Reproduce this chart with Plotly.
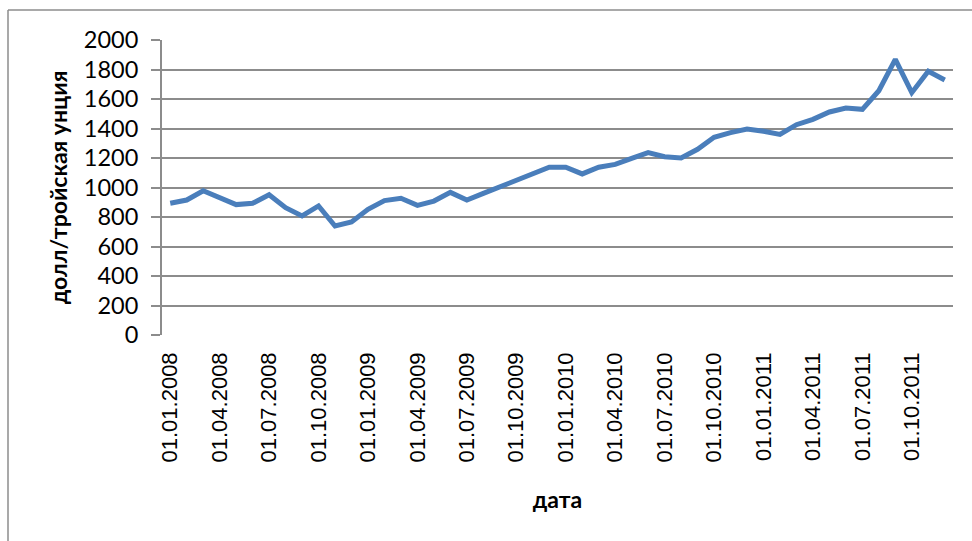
import plotly.graph_objects as go

# Monthly dates (first day of each month), Jan 2008 - Dec 2011
months = [f"01.{m:02d}.{y}" for y in range(2008, 2012) for m in range(1, 13)]

# Gold price, USD per troy ounce
price = [893, 915, 978, 931, 884, 893, 951, 863, 807, 875, 739, 766,
         852, 911, 927, 879, 908, 967, 915, 960, 1006, 1046, 1092, 1137,
         1137, 1092, 1137, 1157, 1198, 1236, 1209, 1200, 1259, 1340, 1372, 1397,
         1381, 1360, 1426, 1462, 1512, 1539, 1530, 1656, 1869, 1643, 1788, 1729]

# Quarterly tick labels
tick_labels = months[::3]

y_ticks = list(range(0, 2001, 200))

GRID = "#8c8c8c"

fig = go.Figure()
fig.add_trace(go.Scatter(
    x=months, y=price, mode="lines",
    line=dict(color="#4a7ebb", width=5),
    showlegend=False, hoverinfo="x+y",
))

fig.update_layout(
    width=972, height=541,
    margin=dict(l=162, r=19, t=40, b=206),
    paper_bgcolor="white", plot_bgcolor="white",
    xaxis=dict(
        type="category",
        range=[-0.5, len(months) - 0.5],
        tickmode="array", tickvals=tick_labels, ticktext=tick_labels,
        tickangle=-90,
        tickfont=dict(family="Liberation Sans", size=22, color="black"),
        ticks="", showgrid=False, showline=False, zeroline=False,
        ticklabelstandoff=12,
        title=dict(text="<b>дата</b>", standoff=30,
                   font=dict(family="Lato", size=23, color="black")),
    ),
    yaxis=dict(
        range=[0, 2000],
        tickmode="array", tickvals=y_ticks,
        tickfont=dict(family="Lato", size=23.5, color="black"),
        ticks="outside", ticklen=9, tickcolor=GRID, tickwidth=2,
        showgrid=True, gridcolor=GRID, gridwidth=2,
        showline=True, linecolor=GRID, linewidth=2,
        zeroline=False,
        ticklabelstandoff=8,
        title=dict(text="<b>долл/тройская унция</b>", standoff=10,
                   font=dict(family="Lato", size=23, color="black")),
    ),
    shapes=[
        # outer frame: top and left edges
        dict(type="line", xref="paper", yref="paper",
             x0=(8 - 162) / 791, x1=(972 - 162) / 791,
             y0=(335 - 10) / 295, y1=(335 - 10) / 295,
             line=dict(color=GRID, width=1.5)),
        dict(type="line", xref="paper", yref="paper",
             x0=(8 - 162) / 791, x1=(8 - 162) / 791,
             y0=(335 - 10) / 295, y1=(335 - 545) / 295,
             line=dict(color=GRID, width=1.5)),
    ],
)

fig.write_html("out.html")
